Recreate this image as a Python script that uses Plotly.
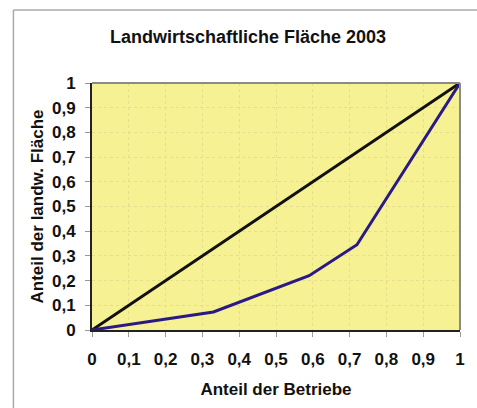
import plotly.graph_objects as go

# Lorenz curve of agricultural land: share of farms vs. share of land
share_farms = [0, 0.33, 0.59, 0.72, 1]
share_land = [0, 0.073, 0.22, 0.345, 1]
equality_x = [0, 1]
equality_y = [0, 1]
tick_vals = [0, 0.1, 0.2, 0.3, 0.4, 0.5, 0.6, 0.7, 0.8, 0.9, 1]

font_family = "Liberation Sans, Arial, sans-serif"

fig = go.Figure()
fig.add_trace(go.Scatter(x=equality_x, y=equality_y, mode="lines",
                         line=dict(color="#111111", width=3), showlegend=False,
                         cliponaxis=False))
fig.add_trace(go.Scatter(x=share_farms, y=share_land, mode="lines",
                         line=dict(color="#2a1a86", width=3), showlegend=False,
                         cliponaxis=False))

axis_common = dict(
    range=[0, 1], tickvals=tick_vals, showgrid=True,
    gridcolor="#e6de8c", griddash="3px,3px", gridwidth=1,
    zeroline=False, ticks="outside", ticklen=5, tickcolor="#999999",
    showline=True, linecolor="#222222", linewidth=2,
    tickfont=dict(family=font_family, size=17, color="#111111", weight="bold"),
    fixedrange=True,
)

fig.update_layout(
    width=477, height=408,
    margin=dict(l=92, r=15, t=83, b=78),
    paper_bgcolor="white", plot_bgcolor="#f6f193",
    separators=",.",
    title=dict(text="<b>Landwirtschaftliche Fläche 2003</b>", x=0.52, xanchor="center",
               y=1 - 37 / 408, yanchor="middle",
               font=dict(family=font_family, size=18, color="#111111")),
    xaxis=dict(axis_common, ticklabelstandoff=8,
               title=dict(text="<b>Anteil der Betriebe</b>", standoff=15,
                          font=dict(family=font_family, size=17, color="#111111"))),
    yaxis=dict(axis_common, ticklabelstandoff=6,
               title=dict(text="<b>Anteil der landw. Fläche</b>", standoff=4,
                          font=dict(family=font_family, size=17, color="#111111"))),
    shapes=[
        # top and right frame of the plot area
        dict(type="line", xref="paper", yref="paper", x0=0, y0=1, x1=1, y1=1,
             line=dict(color="#8a8a8a", width=2)),
        dict(type="line", xref="paper", yref="paper", x0=1, y0=0, x1=1, y1=1,
             line=dict(color="#8a8a8a", width=2)),
        # outer chart frame
        dict(type="line", xref="paper", yref="paper", x0=-79 / 370, y0=1.2955,
             x1=1.2, y1=1.2955, line=dict(color="#aaaaaa", width=1.5)),
        dict(type="line", xref="paper", yref="paper", x0=-79 / 370, y0=1.2955,
             x1=-79 / 370, y1=-0.4, line=dict(color="#aaaaaa", width=1.5)),
    ],
)

fig.write_html("out.html")
